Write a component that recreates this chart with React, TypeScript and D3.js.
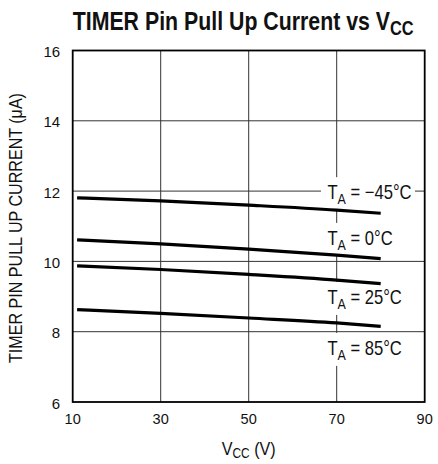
import React from 'react';
import * as d3 from 'd3';

// V_CC (V) sample points, shared by every curve
const vcc = [11, 30, 50, 70, 80];

// TIMER pin pull-up current (uA) per ambient temperature
const seriesNames = ['-45', '0', '25', '85'];
const currentM45 = [11.81, 11.72, 11.6, 11.46, 11.37];
const current0 = [10.61, 10.5, 10.35, 10.18, 10.08];
const current25 = [9.87, 9.77, 9.63, 9.47, 9.37];
const current85 = [8.63, 8.52, 8.39, 8.25, 8.15];

const xTicks = [10, 30, 50, 70, 90];
const yTicks = [6, 8, 10, 12, 14, 16];

// label anchors (text start, baseline) in data units (V, uA)
const labelText = ['\u221245\u00B0C', '0\u00B0C', '25\u00B0C', '85\u00B0C'];
const labelV = [67.9, 67.9, 67.9, 67.9];
const labelI = [11.77, 10.47, 8.79, 7.34];

const W = 438;
const H = 464;
const margin = { top: 50.5, right: 13.3, bottom: 62, left: 72.7 };
const font = "'Liberation Sans', Arial, sans-serif";

// narrow text: regular Liberation Sans squeezed horizontally
const Narrow: React.FC<{
  x: number;
  y: number;
  sx: number;
  size: number;
  anchor?: string;
  weight?: string;
  rotate?: number;
  children: React.ReactNode;
}> = ({ x, y, sx, size, anchor = 'start', weight = 'normal', rotate = 0, children }) => (
  <text
    transform={`translate(${x},${y}) rotate(${rotate}) scale(${sx},1)`}
    textAnchor={anchor}
    fontSize={size}
    fontWeight={weight}
    fill="#111"
  >
    {children}
  </text>
);

const App: React.FC = () => {
  const x = d3.scaleLinear().domain([10, 90]).range([margin.left, W - margin.right]);
  const y = d3.scaleLinear().domain([6, 16]).range([H - margin.bottom, margin.top]);

  const line = d3
    .line<[number, number]>()
    .x(d => x(d[0]))
    .y(d => y(d[1]))
    .curve(d3.curveMonotoneX);

  const all = [currentM45, current0, current25, current85];

  return (
    <svg width={W} height={H} style={{ position: 'absolute', left: 0, top: 0, background: '#fff' }} fontFamily={font}>
      {/* grid */}
      <g stroke="#333" strokeWidth={1}>
        {xTicks.slice(1, -1).map(t => (
          <line key={'gx' + t} x1={x(t)} x2={x(t)} y1={y(16)} y2={y(6)} />
        ))}
        {yTicks.slice(1, -1).map(t => (
          <line key={'gy' + t} x1={x(10)} x2={x(90)} y1={y(t)} y2={y(t)} />
        ))}
      </g>

      {/* labels on white boxes */}
      {labelText.map((t, i) => (
        <g key={'lab' + i}>
          <rect x={x(labelV[i]) - 6.5} y={y(labelI[i]) - 22} width={94} height={33} fill="#fff" />
          <Narrow x={x(labelV[i])} y={y(labelI[i])} sx={0.83} size={20}>
            T<tspan fontSize={15} dy={5}>A</tspan>
            <tspan dy={-5}>{' = ' + t}</tspan>
          </Narrow>
        </g>
      ))}

      {/* curves */}
      {all.map((s, i) => (
        <path
          key={seriesNames[i]}
          d={line(vcc.map((v, j) => [v, s[j]] as [number, number])) || ''}
          fill="none"
          stroke="#000"
          strokeWidth={3.2}
        />
      ))}

      {/* frame */}
      <rect
        x={x(10)}
        y={y(16)}
        width={x(90) - x(10)}
        height={y(6) - y(16)}
        fill="none"
        stroke="#000"
        strokeWidth={1.8}
      />

      {/* y tick labels */}
      {yTicks.map(t => (
        <Narrow key={'yt' + t} x={x(10) - 12.5} y={y(t) + 6.5} sx={0.97} size={15.5} anchor="end">
          {t}
        </Narrow>
      ))}
      {/* x tick labels */}
      {xTicks.map(t => (
        <Narrow key={'xt' + t} x={x(t)} y={424} sx={0.97} size={15} anchor="middle">
          {t}
        </Narrow>
      ))}

      {/* axis titles */}
      <Narrow x={x(50)} y={455} sx={0.85} size={19} anchor="middle">
        V<tspan fontSize={14} dy={3}>CC</tspan>
        <tspan dy={-3}> (V)</tspan>
      </Narrow>
      <Narrow x={22} y={228} sx={0.87} size={18.5} anchor="middle" rotate={-90}>
        TIMER PIN PULL UP CURRENT (μA)
      </Narrow>

      {/* title */}
      <Narrow x={72.7} y={29.5} sx={0.82} size={26} weight="bold">
        TIMER Pin Pull Up Current vs V<tspan fontSize={20} dy={5.5}>CC</tspan>
      </Narrow>
    </svg>
  );
};

export default App;
